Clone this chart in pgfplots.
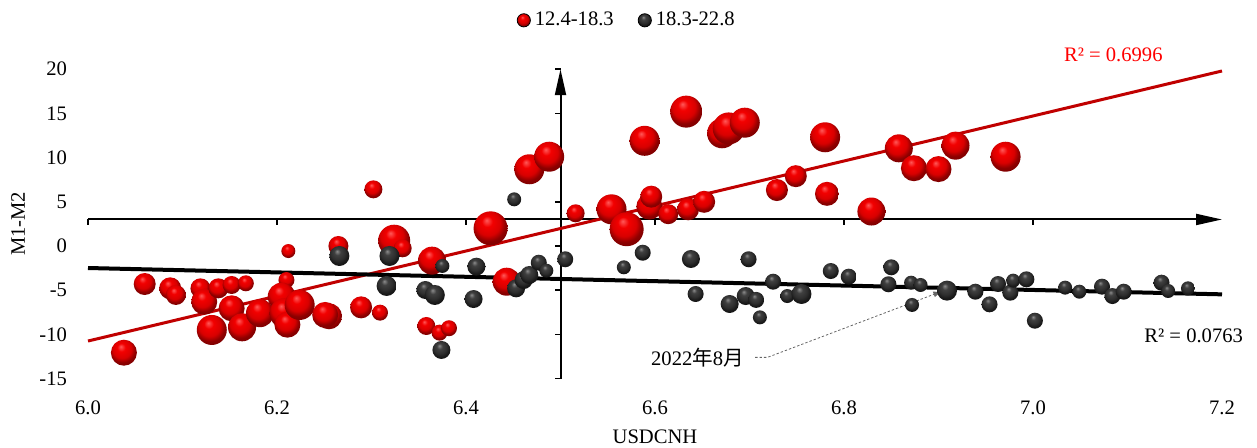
\documentclass[border=0pt]{standalone}
\usepackage{fontspec}
\setmainfont{Liberation Serif}
\newfontfamily\cjk{Noto Sans CJK SC}
\usepackage{pgfplots}
\pgfplotsset{compat=1.18}
\usetikzlibrary{arrows.meta}
\definecolor{tred}{RGB}{192,0,0}
\definecolor{rtxt}{RGB}{255,0,0}
\pgfdeclareradialshading{redball}{\pgfpoint{-6bp}{12bp}}{color(0bp)=(red!65!white); color(8bp)=(red!95!black); color(18bp)=(red!85!black); color(25bp)=(red!55!black); color(50bp)=(red!30!black)}
\pgfdeclareradialshading{blackball}{\pgfpoint{-6bp}{12bp}}{color(0bp)=(black!45); color(8bp)=(black!75); color(18bp)=(black!82); color(25bp)=(black!90); color(50bp)=(black)}
\pgfdeclareplotmark{redball}{\pgfpathcircle{\pgfpointorigin}{\pgfplotmarksize}\pgfshadepath{redball}{0}\pgfusepath{}}
\pgfdeclareplotmark{blackball}{\pgfpathcircle{\pgfpointorigin}{\pgfplotmarksize}\pgfshadepath{blackball}{0}\pgfusepath{}}
\begin{document}
\begin{tikzpicture}
\begin{axis}[name=ax,
  scale only axis, width=567pt, height=154.7pt,
  xmin=6, xmax=7.2, ymin=-15, ymax=20,
  clip=false,
  axis line style={draw=none}, major tick length=0pt, tick style={draw=none},
  xtick={6,6.2,6.4,6.6,6.8,7,7.2}, xticklabels={6.0,6.2,6.4,6.6,6.8,7.0,7.2},
  ytick={-15,-10,-5,0,5,10,15,20}, yticklabels={-15,-10,-5,0,5,10,15,20},
  xticklabel pos=lower, yticklabel pos=lower,
  tick label style={font=\fontsize{10.3}{12}\selectfont},
  xticklabel style={yshift=-7.5pt}, yticklabel style={xshift=-7pt},
  label style={font=\fontsize{10.3}{12}\selectfont},
  xlabel={USDCNH}, xlabel style={at={(axis description cs:0.5,-0.1875)}, anchor=center},
  ylabel={M1-M2}, ylabel style={at={(axis description cs:-0.0617,0.5)}, anchor=center},
  legend style={at={(axis description cs:0.476,1.158)}, anchor=center, draw=none, fill=none,
    font=\fontsize{10.3}{12}\selectfont, legend columns=2,
    /tikz/every even column/.append style={column sep=10pt}},
]
% axes crossing at (6.5, 3)
\draw[line width=1pt, -{Triangle[length=13pt,width=5.5pt]}] (axis cs:6,3) -- (axis cs:7.2,3);
\draw[line width=1pt, -{Triangle[length=13pt,width=5.5pt]}] (axis cs:6.5,-15) -- (axis cs:6.5,20);
\draw[line width=0.8pt] (axis cs:6,3) -- ([yshift=-3pt]axis cs:6,3);
\draw[line width=0.8pt] (axis cs:6.2,3) -- ([yshift=-3pt]axis cs:6.2,3);
\draw[line width=0.8pt] (axis cs:6.4,3) -- ([yshift=-3pt]axis cs:6.4,3);
\draw[line width=0.8pt] (axis cs:6.6,3) -- ([yshift=-3pt]axis cs:6.6,3);
\draw[line width=0.8pt] (axis cs:6.8,3) -- ([yshift=-3pt]axis cs:6.8,3);
\draw[line width=0.8pt] (axis cs:7.0,3) -- ([yshift=-3pt]axis cs:7.0,3);
\draw[line width=0.8pt] (axis cs:6.5,-15) -- ([xshift=-3pt]axis cs:6.5,-15);
\draw[line width=0.8pt] (axis cs:6.5,-10) -- ([xshift=-3pt]axis cs:6.5,-10);
\draw[line width=0.8pt] (axis cs:6.5,-5) -- ([xshift=-3pt]axis cs:6.5,-5);
\draw[line width=0.8pt] (axis cs:6.5,0) -- ([xshift=-3pt]axis cs:6.5,0);
\draw[line width=0.8pt] (axis cs:6.5,5) -- ([xshift=-3pt]axis cs:6.5,5);
\draw[line width=0.8pt] (axis cs:6.5,10) -- ([xshift=-3pt]axis cs:6.5,10);
\draw[line width=0.8pt] (axis cs:6.5,15) -- ([xshift=-3pt]axis cs:6.5,15);
\draw[line width=0.8pt] (axis cs:6.5,20) -- ([xshift=-3pt]axis cs:6.5,20);

\addplot[scatter, only marks, mark=redball,
  visualization depends on={\thisrow{r}*0.5 \as \perpointmarksize},
  scatter/@pre marker code/.append style={/tikz/mark size=\perpointmarksize},
  legend image code/.code={\shade[shading=redball] (0.12cm,0cm) circle (3.3pt);}]
table {
x y r
6.038 -12.07 13
6.060 -4.30 11
6.087 -4.79 11
6.093 -5.54 10
6.119 -4.79 10
6.123 -6.30 13
6.138 -4.79 10
6.152 -4.41 9
6.167 -4.22 8
6.210 -3.85 8
6.152 -7.05 13
6.131 -9.50 15
6.163 -9.20 14
6.182 -7.60 14
6.205 -5.73 14
6.208 -7.60 15
6.211 -8.90 13
6.224 -6.67 15
6.255 -7.95 13
6.251 -7.80 13
6.289 -6.94 11
6.309 -7.54 8
6.358 -9.05 9
6.372 -9.80 8
6.382 -9.30 8
6.212 -0.57 7
6.265 0.00 10
6.324 0.60 16
6.333 -0.26 9
6.364 -1.66 14
6.302 6.41 9
6.443 -4.04 14
6.426 2.00 17
6.467 8.68 15
6.488 10.10 15
6.516 3.70 9
6.554 4.15 15
6.570 1.90 17
6.589 11.90 15
6.633 15.20 16
6.671 12.75 15
6.678 13.30 16
6.695 13.95 15
6.594 4.45 13
6.596 5.58 11
6.614 3.60 10
6.635 4.15 11
6.652 5.00 11
6.729 6.33 11
6.749 7.90 11
6.780 12.30 15
6.782 5.90 12
6.829 3.90 14
6.858 11.05 14
6.874 8.80 13
6.900 8.70 13
6.918 11.35 14
6.971 10.10 15
};
\addlegendentry{12.4-18.3}

\addplot[scatter, only marks, mark=blackball,
  visualization depends on={\thisrow{r}*0.5 \as \perpointmarksize},
  scatter/@pre marker code/.append style={/tikz/mark size=\perpointmarksize},
  legend image code/.code={\shade[shading=blackball] (0.12cm,0cm) circle (3.3pt);}]
table {
x y r
6.451 5.28 7
6.266 -1.13 10
6.319 -1.13 10
6.375 -2.26 7
6.316 -4.52 10
6.357 -4.98 9
6.367 -5.54 10
6.374 -11.76 9
6.411 -2.34 9
6.408 -6.00 9
6.453 -4.79 9
6.461 -3.85 9
6.467 -3.28 9
6.477 -1.89 8
6.485 -2.79 7
6.505 -1.50 8
6.567 -2.41 7
6.587 -0.76 8
6.638 -1.47 9
6.643 -5.43 8
6.679 -6.56 9
6.696 -5.66 9
6.707 -6.10 8
6.711 -8.07 7
6.699 -1.50 8
6.725 -4.04 8
6.740 -5.66 7
6.755 -5.43 10
6.786 -2.83 8
6.805 -3.47 8
6.850 -2.41 8
6.847 -4.33 8
6.871 -4.15 7
6.881 -4.41 7
6.872 -6.67 7
6.909 -5.05 10
6.939 -5.17 8
6.954 -6.60 8
6.963 -4.30 8
6.976 -5.28 8
6.979 -3.92 7
6.993 -3.77 8
7.002 -8.45 8
7.034 -4.71 7
7.049 -5.17 7
7.073 -4.60 8
7.084 -5.66 8
7.096 -5.17 8
7.136 -4.15 8
7.143 -5.09 7
7.164 -4.79 7
};
\addlegendentry{18.3-22.8}

% trend lines
\addplot[tred, line width=1.5pt, forget plot] coordinates {(6.0,-10.75) (7.2,19.8)};
\addplot[black, line width=2pt, forget plot] coordinates {(6.0,-2.49) (7.2,-5.47)};

\node[text=rtxt, font=\fontsize{10.3}{12}\selectfont] at (axis cs:7.085,21.6) {R² = 0.6996};
\node[font=\fontsize{10.3}{12}\selectfont] at (axis cs:7.170,-10.2) {R² = 0.0763};
\node[font=\fontsize{10.3}{12}\selectfont] at (axis cs:6.645,-12.6) {2022{\cjk 年}8{\cjk 月}};
\draw[black!60, dash pattern=on 1.2pt off 1pt, line width=0.4pt, -{Latex[length=4pt,width=3pt]}] (axis cs:6.706,-12.6) -- (axis cs:6.719,-12.6) -- (axis cs:6.903,-5.15);
\end{axis}
\pgfresetboundingbox
\path[use as bounding box] ([shift={(-44pt,-34.7pt)}]ax.south west) rectangle ([shift={(17.5pt,34.6pt)}]ax.north east);
\end{tikzpicture}
\end{document}
